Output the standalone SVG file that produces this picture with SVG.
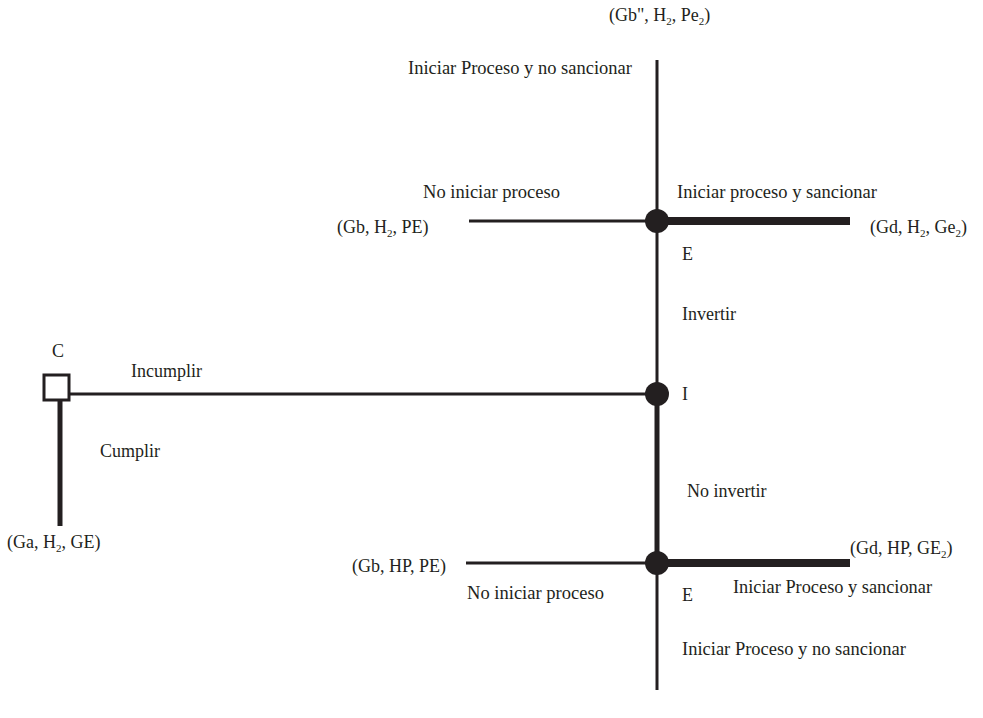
<svg xmlns="http://www.w3.org/2000/svg" width="983" height="718" viewBox="0 0 983 718">
<style>
text{font-family:"Liberation Serif","Times New Roman",serif;font-size:18px;fill:#231f20}
.s{font-size:11px}
.thin{stroke:#231f20;stroke-width:3;fill:none}
.thick{stroke:#231f20;stroke-width:8;fill:none}
.med{stroke:#231f20;stroke-width:5;fill:none}
.dot{fill:#231f20}
</style>
<rect width="983" height="718" fill="#fff"/>
<g id="connectors">
<line class="thin" x1="657" y1="60" x2="657" y2="394"/>
<line class="med" x1="657" y1="394" x2="657" y2="563"/>
<line class="thin" x1="657" y1="563" x2="657" y2="690"/>
<line class="thin" x1="469" y1="221" x2="657" y2="221"/>
<line class="thick" x1="657" y1="221" x2="850" y2="221"/>
<line class="thin" x1="69" y1="394" x2="657" y2="394"/>
<line class="med" x1="60" y1="400" x2="60" y2="526"/>
<line class="thin" x1="466" y1="563" x2="657" y2="563"/>
<line class="thick" x1="657" y1="563" x2="850" y2="563"/>
</g>
<g id="node-C">
<rect x="44" y="375" width="25" height="25" fill="#fff" stroke="#231f20" stroke-width="3"/>
<text x="52" y="357">C</text>
</g>
<g id="node-I">
<circle class="dot" cx="657" cy="394" r="12"/>
<text x="682" y="400">I</text>
</g>
<g id="node-E1">
<circle class="dot" cx="657" cy="221" r="12"/>
<text x="682" y="260">E</text>
</g>
<g id="node-E2">
<circle class="dot" cx="657" cy="563" r="12"/>
<text x="682" y="601">E</text>
</g>
<g id="labels">
<text x="609" y="21">(Gb", H<tspan class="s" dy="4">2</tspan><tspan dy="-4">, Pe</tspan><tspan class="s" dy="4">2</tspan><tspan dy="-4">)</tspan></text>
<text x="408" y="74" textLength="224" lengthAdjust="spacingAndGlyphs">Iniciar Proceso y no sancionar</text>
<text x="423" y="198" textLength="137" lengthAdjust="spacingAndGlyphs">No iniciar proceso</text>
<text x="337" y="233">(Gb, H<tspan class="s" dy="4">2</tspan><tspan dy="-4">, PE)</tspan></text>
<text x="677" y="198" textLength="200" lengthAdjust="spacingAndGlyphs">Iniciar proceso y sancionar</text>
<text x="870" y="233">(Gd, H<tspan class="s" dy="4">2</tspan><tspan dy="-4">, Ge</tspan><tspan class="s" dy="4">2</tspan><tspan dy="-4">)</tspan></text>
<text x="682" y="320">Invertir</text>
<text x="131" y="377">Incumplir</text>
<text x="100" y="457">Cumplir</text>
<text x="7" y="548">(Ga, H<tspan class="s" dy="4">2</tspan><tspan dy="-4">, GE)</tspan></text>
<text x="687" y="497">No invertir</text>
<text x="352" y="572">(Gb, HP, PE)</text>
<text x="850" y="554">(Gd, HP, GE<tspan class="s" dy="4">2</tspan><tspan dy="-4">)</tspan></text>
<text x="467" y="599" textLength="137" lengthAdjust="spacingAndGlyphs">No iniciar proceso</text>
<text x="733" y="593" textLength="199" lengthAdjust="spacingAndGlyphs">Iniciar Proceso y sancionar</text>
<text x="682" y="655" textLength="224" lengthAdjust="spacingAndGlyphs">Iniciar Proceso y no sancionar</text>
</g>
</svg>
